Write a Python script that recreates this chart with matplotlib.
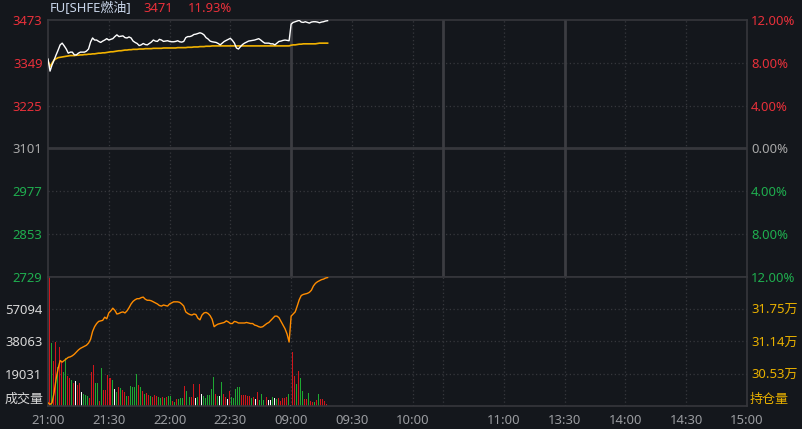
import matplotlib
matplotlib.use('Agg')
import matplotlib.pyplot as plt
import numpy as np

plt.rcParams['font.family'] = ['Noto Sans', 'Noto Sans CJK SC', 'DejaVu Sans']

# ---------------- data ----------------
symbol = 'FU[SHFE燃油]'
last_price = '3471'
last_pct = '11.93%'
prev_settle = 3101

price_ticks = [3473, 3349, 3225, 3101, 2977, 2853, 2729]
pct_labels = ['12.00%', '8.00%', '4.00%', '0.00%', '4.00%', '8.00%', '12.00%']
time_labels = ['21:00', '21:30', '22:00', '22:30', '09:00', '09:30', '10:00',
               '11:00', '13:30', '14:00', '14:30', '15:00']
time_minutes = [0, 30, 60, 90, 120, 150, 180, 225, 255, 285, 315, 345]
vol_ticks = [19031, 38063, 57094]
vol_max = 76125
oi_ticks = [30.53, 31.14, 31.75]     # 万
oi_range = [29.92, 32.36]

price = [3360, 3325, 3343, 3357, 3372, 3386, 3401, 3406, 3398, 3389,
         3377, 3380, 3380, 3372, 3372, 3377, 3380, 3380, 3380, 3383,
         3389, 3409, 3421, 3415, 3415, 3411, 3408, 3412, 3415, 3419,
         3415, 3417, 3419, 3425, 3430, 3425, 3426, 3427, 3422, 3421,
         3424, 3421, 3412, 3408, 3405, 3399, 3401, 3405, 3402, 3401,
         3405, 3409, 3415, 3412, 3411, 3417, 3415, 3411, 3412, 3413,
         3411, 3410, 3410, 3411, 3413, 3410, 3409, 3411, 3422, 3425,
         3425, 3427, 3431, 3432, 3434, 3436, 3434, 3430, 3422, 3418,
         3412, 3410, 3409, 3408, 3405, 3401, 3406, 3411, 3414, 3417,
         3420, 3414, 3406, 3392, 3389, 3396, 3402, 3406, 3409, 3412,
         3413, 3414, 3415, 3417, 3419, 3415, 3410, 3406, 3406, 3406,
         3404, 3404, 3401, 3406, 3411, 3412, 3414, 3415, 3414, 3413,
         3461, 3466, 3468, 3470, 3472, 3467, 3466, 3468, 3466, 3464,
         3467, 3468, 3468, 3467, 3465, 3467, 3468, 3470, 3471]

avg_price = [3355, 3338, 3348, 3357, 3361, 3364, 3365, 3366, 3367, 3368,
             3369, 3370, 3370, 3370, 3371, 3371, 3372, 3372, 3373, 3373,
             3374, 3374, 3375, 3375, 3376, 3377, 3377, 3378, 3378, 3379,
             3380, 3381, 3381, 3382, 3383, 3384, 3384, 3385, 3386, 3386,
             3387, 3387, 3388, 3388, 3388, 3389, 3389, 3389, 3390, 3390,
             3390, 3390, 3391, 3391, 3391, 3391, 3391, 3392, 3392, 3392,
             3392, 3392, 3392, 3392, 3393, 3393, 3393, 3393, 3393, 3394,
             3394, 3394, 3395, 3395, 3395, 3396, 3396, 3396, 3397, 3397,
             3397, 3398, 3398, 3398, 3398, 3398, 3398, 3398, 3398, 3398,
             3398, 3398, 3398, 3398, 3398, 3398, 3398, 3398, 3398, 3398,
             3398, 3398, 3398, 3398, 3398, 3398, 3398, 3398, 3398, 3398,
             3398, 3398, 3398, 3398, 3398, 3398, 3398, 3398, 3398, 3398,
             3400, 3401, 3401, 3402, 3403, 3403, 3404, 3404, 3404, 3404,
             3404, 3404, 3404, 3405, 3406, 3406, 3406, 3406, 3406]

open_interest = [29.98, 29.95, 29.98, 30.17, 30.43, 30.63, 30.78, 30.75, 30.78, 30.81,
                 30.84, 30.85, 30.87, 30.90, 30.94, 30.98, 31.01, 31.03, 31.05, 31.07,
                 31.11, 31.18, 31.33, 31.42, 31.48, 31.52, 31.53, 31.54, 31.60, 31.57,
                 31.68, 31.72, 31.77, 31.73, 31.66, 31.67, 31.69, 31.70, 31.68, 31.72,
                 31.78, 31.85, 31.90, 31.93, 31.95, 31.95, 31.97, 31.98, 31.94, 31.92,
                 31.92, 31.91, 31.89, 31.87, 31.85, 31.82, 31.81, 31.83, 31.82, 31.81,
                 31.85, 31.87, 31.89, 31.89, 31.89, 31.88, 31.85, 31.81, 31.70, 31.67,
                 31.65, 31.64, 31.66, 31.65, 31.58, 31.55, 31.64, 31.68, 31.69, 31.67,
                 31.63, 31.56, 31.42, 31.45, 31.47, 31.48, 31.49, 31.50, 31.53, 31.51,
                 31.48, 31.48, 31.52, 31.51, 31.49, 31.49, 31.49, 31.49, 31.50, 31.49,
                 31.48, 31.48, 31.45, 31.44, 31.42, 31.41, 31.42, 31.45, 31.48, 31.50,
                 31.54, 31.58, 31.62, 31.62, 31.59, 31.52, 31.45, 31.38, 31.28, 31.13,
                 31.62, 31.66, 31.70, 31.81, 31.93, 32.01, 32.03, 32.04, 32.05, 32.07,
                 32.11, 32.19, 32.24, 32.27, 32.29, 32.31, 32.32, 32.34, 32.35]

volume = [76125, 37370, 26730, 37950, 23200, 34630, 26730, 20250, 28130, 17700,
          16330, 15340, 13370, 14750, 12390, 13370, 8460, 7080, 6490, 6100,
          4520, 20250, 24190, 13370, 13370, 3150, 22620, 9440, 9440, 18290,
          16330, 15340, 9830, 8260, 11010, 10420, 9440, 8460, 5900, 5900,
          11800, 11410, 11410, 18680, 12390, 11410, 9050, 7080, 7470, 6490,
          5900, 5110, 6490, 5900, 5110, 4720, 5510, 4520, 5110, 5900,
          5900, 3150, 2560, 4330, 3930, 4920, 4920, 11800, 9050, 5510,
          5510, 12980, 4720, 5110, 12980, 7080, 5900, 4920, 6490, 6490,
          10030, 17110, 7080, 5900, 5900, 14160, 7080, 5510, 4130, 8850,
          5510, 4920, 10030, 11210, 11210, 6690, 6690, 6290, 5700, 6100,
          4920, 5510, 4130, 8260, 3540, 7080, 3540, 5510, 3540, 3540,
          5510, 4720, 4330, 4920, 3150, 4720, 4720, 5510, 7080, 790,
          32060, 17700, 12980, 20650, 16720, 9050, 4130, 4130, 7870, 2950,
          2160, 2160, 3540, 7080, 4130, 4130, 2950, 1180]

volume_dir = ("rgrrgrrggr" "rgrwrrwggg" "rrrggrgrrr" "rgwgrgrrgr" "ggggrgrgrr"
              "grrrggrgrg" "grgrgggrgg" "rrwgrwgggg" "ggrgwgrrwr" "gggggrrrrr"
              "grwrgggrww" "gwgrrrrrgw" "rrgrggrrgr" "rgrgrrrr")

# ---------------- style ----------------
W, H = 803, 429
BG = '#14171c'
GRID = '#36373c'
RED = '#e8303a'
GREEN = '#1fae4f'
GREY = '#a8a8a8'
XLBL = '#9a9ca0'
OICOL = '#e8b000'
FS = 9.4

fig = plt.figure(figsize=(W / 100, H / 100), dpi=100, facecolor=BG)

L, R = 48, 747
T, M, B = 20, 277, 406
ax1 = fig.add_axes([L / W, 1 - M / H, (R - L) / W, (M - T) / H])
ax2 = fig.add_axes([L / W, 1 - B / H, (R - L) / W, (B - M) / H])

for ax in (ax1, ax2):
    ax.set_facecolor(BG)
    ax.set_xlim(0, 345)
    for s in ax.spines.values():
        s.set_color(GRID)
        s.set_linewidth(1.2)

ax1.set_ylim(price_ticks[-1], price_ticks[0])
ax2.set_ylim(0, vol_max)

dot = (0, (1, 2))
for v in price_ticks[1:-1]:
    if v == prev_settle:
        ax1.axhline(v, color=GRID, lw=2.0, zorder=1)
    else:
        ax1.axhline(v, color=GRID, lw=0.9, ls=dot, zorder=1)
for m in [30, 60, 90, 150, 180, 225, 285, 315]:
    ax1.axvline(m, color=GRID, lw=0.9, ls=dot, zorder=1)
    ax2.axvline(m, color=GRID, lw=0.9, ls=dot, zorder=1)
for m in [120, 195, 255]:
    ax1.axvline(m, color='#3c3d42', lw=2.0, zorder=1)
    ax2.axvline(m, color=GRID, lw=0.9, ls=dot, zorder=1)
for v in vol_ticks:
    ax2.axhline(v, color=GRID, lw=0.9, ls=dot, zorder=1)

n = len(price)
xl = np.arange(n) * 1.0
ax1.plot(xl, price, color='white', lw=1.0, zorder=3)
ax1.plot(xl, avg_price, color='#f2b200', lw=1.2, zorder=2)

# volume bars
cmap = {'r': '#d0161c', 'g': '#1ea832', 'w': '#ffffff'}
xb = np.arange(len(volume)) + 0.6
ax2.bar(xb, volume, width=0.5, color=[cmap[c] for c in volume_dir],
        edgecolor='none', linewidth=0, antialiased=False, zorder=2)

# open interest
ax3 = ax2.twinx()
ax3.set_ylim(*oi_range)
ax3.plot(xl[:len(open_interest)], open_interest, color='#ff8c00', lw=1.0, zorder=4)
for s in ax3.spines.values():
    s.set_visible(False)

ax1.set_yticks(price_ticks)
ax1.set_yticklabels([str(v) for v in price_ticks])
ax1.tick_params(axis='y', length=0, pad=4, labelsize=FS)
for lbl, v in zip(ax1.get_yticklabels(), price_ticks):
    lbl.set_color(RED if v > prev_settle else (GREY if v == prev_settle else GREEN))
ax1.set_xticks([])

ax1r = ax1.twinx()
ax1r.set_ylim(price_ticks[-1], price_ticks[0])
ax1r.set_yticks(price_ticks)
ax1r.set_yticklabels(pct_labels)
ax1r.tick_params(axis='y', length=0, pad=3, labelsize=FS)
for lbl, v in zip(ax1r.get_yticklabels(), price_ticks):
    lbl.set_color(RED if v > prev_settle else (GREY if v == prev_settle else GREEN))
for s in ax1r.spines.values():
    s.set_visible(False)

ax2.set_yticks(vol_ticks)
ax2.set_yticklabels([str(v) for v in vol_ticks])
ax2.tick_params(axis='y', length=0, pad=4, labelsize=FS, labelcolor='#d8d8d8')
ax2.set_xticks(time_minutes)
ax2.set_xticklabels(time_labels)
ax2.tick_params(axis='x', length=0, pad=6, labelsize=FS, labelcolor=XLBL)

ax3.set_yticks(oi_ticks)
ax3.set_yticklabels([f'{v:.2f}万' for v in oi_ticks])
ax3.tick_params(axis='y', length=0, pad=3, labelsize=FS, labelcolor=OICOL)

fig.text(44 / W, 1 - 399 / H, '成交量', ha='right', va='center', fontsize=FS, color='#d8d8d8')
fig.text(750 / W, 1 - 399 / H, '持仓量', ha='left', va='center', fontsize=FS, color=OICOL)

fig.text(50 / W, 1 - 8 / H, symbol, ha='left', va='center', fontsize=FS, color='#c8d4e8')
fig.text(143 / W, 1 - 8 / H, last_price, ha='left', va='center', fontsize=FS, color=RED)
fig.text(188 / W, 1 - 8 / H, last_pct, ha='left', va='center', fontsize=FS, color=RED)

fig.savefig('out.png', dpi=100, facecolor=BG)
